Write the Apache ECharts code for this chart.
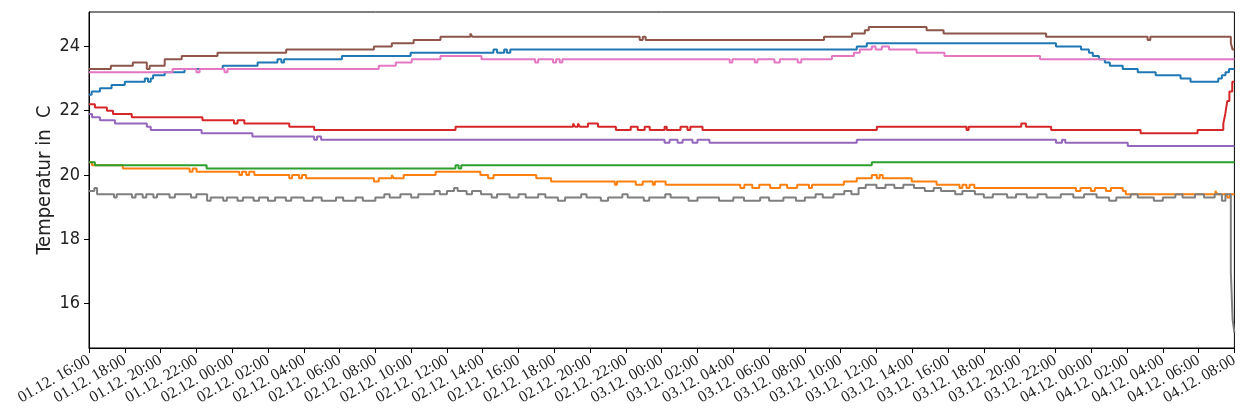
<!DOCTYPE html>
<html>
<head>
<meta charset="utf-8">
<script src="https://cdn.jsdelivr.net/npm/echarts@6/dist/echarts.min.js"></script>
<style>
  html, body { margin: 0; padding: 0; background: #fff; }
  #chart { width: 1241px; height: 416px; }
</style>
</head>
<body>
<div id="chart"></div>
<script>
// hours since 01.12. 16:00, temperature in °C (each value holds until the next point)
const startDay = 1;
const startHour = 16;
const hourTicks = 64;
const yTicks = [16, 18, 20, 22, 24];

const sensorBlue = [
    [0, 22.5], [0.15, 22.6], [0.61, 22.7], [1.26, 22.8], [2.0, 22.9], [3.12, 23.0], [3.3, 22.9], [3.45, 23.0],
    [3.58, 23.1], [4.23, 23.2], [5.34, 23.3], [7.47, 23.4], [9.42, 23.5], [10.53, 23.6], [10.75, 23.5], [10.9, 23.6],
    [14.13, 23.7], [17.97, 23.8], [22.6, 23.9], [22.8, 23.8], [23.2, 23.9], [23.35, 23.8], [23.54, 23.9],
    [42.9, 24.0], [43.46, 24.1], [54.03, 24.0], [55.43, 23.9], [55.87, 23.8], [56.09, 23.7], [56.43, 23.6],
    [56.76, 23.5], [57.04, 23.4], [57.76, 23.3], [58.6, 23.2], [59.6, 23.1], [60.99, 23.0], [61.55, 22.9],
    [63.1, 23.0], [63.3, 23.1], [63.5, 23.2], [63.7, 23.3], [64, 23.3]
];

const sensorOrange = [
    [0, 20.4], [0.17, 20.3], [1.89, 20.2], [5.62, 20.1], [5.79, 20.2], [6.01, 20.1], [8.4, 20.0], [8.55, 20.1],
    [8.79, 20.0], [8.95, 20.1], [9.24, 20.0], [11.19, 19.9], [11.35, 20.0], [11.74, 19.9], [11.9, 20.0],
    [12.13, 19.9], [15.92, 19.8], [16.19, 19.9], [16.92, 20.0], [17.03, 19.9], [17.58, 20.0], [19.37, 20.1],
    [21.87, 20.0], [22.3, 19.9], [22.6, 20.0], [24.99, 19.9], [25.82, 19.8], [29.38, 19.7], [29.5, 19.8],
    [30.55, 19.7], [30.94, 19.8], [31.5, 19.7], [31.62, 19.8], [32.22, 19.7], [36.39, 19.6], [36.62, 19.7],
    [37.06, 19.6], [37.45, 19.7], [38.06, 19.6], [38.62, 19.7], [39.01, 19.6], [39.57, 19.7], [40.23, 19.6],
    [40.4, 19.7], [42.18, 19.8], [42.9, 19.9], [43.74, 20.0], [44.02, 19.9], [44.18, 20.0], [44.35, 19.9],
    [45.97, 19.8], [47.36, 19.7], [48.64, 19.6], [48.8, 19.7], [49.03, 19.6], [49.2, 19.7], [49.47, 19.6],
    [55.15, 19.5], [55.4, 19.6], [55.98, 19.5], [56.2, 19.6], [56.82, 19.5], [57.1, 19.6], [57.76, 19.5],
    [57.93, 19.4], [62.94, 19.5], [63.05, 19.4], [63.6, 19.3], [63.75, 19.4], [64, 19.4]
];

const sensorGreen = [
    [0, 20.4], [0.33, 20.3], [6.57, 20.2], [20.48, 20.3], [20.65, 20.2], [20.8, 20.3], [43.74, 20.4], [64, 20.4]
];

const sensorRed = [
    [0, 22.2], [0.33, 22.1], [1.0, 22.0], [1.34, 21.9], [2.39, 21.8], [6.34, 21.7], [8.1, 21.6], [8.3, 21.7],
    [8.68, 21.6], [11.19, 21.5], [12.58, 21.4], [20.48, 21.5], [27.05, 21.6], [27.16, 21.5], [27.32, 21.6],
    [27.43, 21.5], [27.88, 21.6], [28.44, 21.5], [29.44, 21.4], [30.27, 21.5], [30.66, 21.4], [31.05, 21.5],
    [31.33, 21.4], [32.16, 21.5], [32.28, 21.4], [33.05, 21.5], [33.44, 21.4], [33.6, 21.5], [34.28, 21.4],
    [44.02, 21.5], [49.03, 21.4], [49.15, 21.5], [52.09, 21.6], [52.35, 21.5], [53.76, 21.4], [58.76, 21.3],
    [61.94, 21.4], [63.38, 21.6], [63.49, 21.9], [63.6, 22.3], [63.72, 22.6], [63.88, 22.9], [64, 22.9]
];

const sensorPurple = [
    [0, 21.9], [0.17, 21.8], [0.61, 21.7], [1.45, 21.6], [3.23, 21.5], [3.45, 21.4], [6.29, 21.3], [9.13, 21.2],
    [12.58, 21.1], [12.74, 21.2], [12.97, 21.1], [32.16, 21.0], [32.44, 21.1], [32.89, 21.0], [33.17, 21.1],
    [33.72, 21.0], [34.0, 21.1], [34.67, 21.0], [42.9, 21.1], [54.03, 21.0], [54.37, 21.1], [54.55, 21.0],
    [58.04, 20.9], [64, 20.9]
];

const sensorBrown = [
    [0, 23.3], [1.22, 23.4], [2.45, 23.5], [3.23, 23.3], [3.39, 23.4], [4.23, 23.6], [5.18, 23.7], [7.18, 23.8],
    [11.02, 23.9], [15.92, 24.0], [16.92, 24.1], [18.14, 24.2], [19.64, 24.3], [21.31, 24.4], [21.42, 24.3],
    [30.77, 24.2], [30.94, 24.3], [31.1, 24.2], [41.07, 24.3], [42.63, 24.4], [43.35, 24.5], [43.57, 24.6],
    [46.8, 24.5], [47.75, 24.4], [53.48, 24.3], [59.15, 24.2], [59.3, 24.3], [63.8, 24.1], [63.9, 23.9], [64, 23.9]
];

const sensorPink = [
    [0, 23.2], [4.67, 23.3], [6.0, 23.2], [6.18, 23.3], [7.57, 23.2], [7.74, 23.3], [16.19, 23.4], [17.14, 23.5],
    [18.03, 23.6], [19.64, 23.7], [21.93, 23.6], [24.93, 23.5], [25.1, 23.6], [25.93, 23.5], [26.1, 23.6],
    [26.3, 23.5], [26.45, 23.6], [35.8, 23.5], [35.95, 23.6], [37.2, 23.5], [37.35, 23.6], [38.3, 23.5],
    [38.6, 23.6], [39.6, 23.5], [39.8, 23.6], [41.51, 23.7], [42.74, 23.8], [43.07, 23.9], [43.74, 24.0],
    [43.95, 23.9], [44.3, 24.0], [44.7, 23.9], [46.24, 23.8], [47.8, 23.7], [53.14, 23.6], [64, 23.6]
];

const sensorGray = [
    [0, 19.5], [0.3, 19.6], [0.45, 19.4], [1.4, 19.3], [1.55, 19.4], [2.4, 19.3], [2.6, 19.4], [3.0, 19.3],
    [3.2, 19.4], [3.6, 19.3], [3.8, 19.4], [4.5, 19.3], [4.8, 19.4], [5.7, 19.3], [6.0, 19.4], [6.6, 19.2],
    [6.8, 19.3], [7.5, 19.2], [7.7, 19.3], [8.3, 19.2], [8.6, 19.3], [9.2, 19.2], [9.5, 19.3], [10.0, 19.2],
    [10.4, 19.3], [11.0, 19.2], [11.3, 19.3], [12.0, 19.2], [12.5, 19.3], [13.0, 19.2], [13.8, 19.3],
    [14.2, 19.2], [14.9, 19.3], [15.3, 19.2], [16.0, 19.3], [16.5, 19.4], [16.8, 19.3], [17.4, 19.4],
    [18.0, 19.3], [18.4, 19.4], [19.3, 19.5], [19.6, 19.4], [20.0, 19.5], [20.4, 19.6], [20.6, 19.5],
    [21.1, 19.4], [21.4, 19.5], [21.9, 19.4], [22.5, 19.3], [22.8, 19.4], [23.5, 19.3], [24.0, 19.4],
    [24.4, 19.3], [25.1, 19.4], [25.5, 19.3], [26.2, 19.2], [26.6, 19.3], [27.5, 19.4], [27.8, 19.3],
    [28.6, 19.2], [29.0, 19.3], [29.8, 19.4], [30.1, 19.3], [31.0, 19.2], [31.3, 19.3], [32.2, 19.4],
    [32.5, 19.3], [33.5, 19.2], [34.0, 19.3], [35.2, 19.2], [36.0, 19.3], [36.6, 19.2], [37.5, 19.3],
    [38.0, 19.2], [38.8, 19.3], [39.5, 19.2], [40.0, 19.3], [40.6, 19.4], [41.0, 19.3], [41.6, 19.4],
    [42.2, 19.5], [42.6, 19.4], [43.0, 19.6], [43.4, 19.7], [44.0, 19.6], [44.5, 19.7], [45.0, 19.6],
    [45.5, 19.7], [46.1, 19.6], [46.7, 19.5], [47.2, 19.6], [47.6, 19.5], [48.4, 19.4], [48.8, 19.5],
    [49.5, 19.4], [50.0, 19.3], [50.5, 19.4], [51.3, 19.3], [51.8, 19.4], [52.4, 19.3], [53.0, 19.4],
    [53.5, 19.3], [54.3, 19.4], [55.0, 19.3], [55.6, 19.4], [56.3, 19.3], [57.0, 19.2], [57.4, 19.3],
    [58.2, 19.4], [58.6, 19.3], [59.5, 19.2], [60.0, 19.3], [60.7, 19.4], [61.1, 19.3], [61.8, 19.4],
    [62.3, 19.3], [62.9, 19.4], [63.3, 19.2], [63.5, 19.4], [63.8, 17.0], [63.9, 15.5], [64, 15.1]
];

const sensors = [
    { data: sensorBlue, color: '#1f77b4' },
    { data: sensorOrange, color: '#ff7f0e' },
    { data: sensorGreen, color: '#2ca02c' },
    { data: sensorRed, color: '#d62728' },
    { data: sensorPurple, color: '#9467bd' },
    { data: sensorBrown, color: '#8c564b' },
    { data: sensorPink, color: '#e377c2' },
    { data: sensorGray, color: '#7f7f7f' }
];

function pad(n) {
    return (n < 10 ? '0' : '') + n;
}

function hourLabel(h) {
    const total = startHour + h;
    const day = startDay + Math.floor(total / 24);
    return pad(day) + '.12. ' + pad(total % 24) + ':00';
}

const chart = echarts.init(document.getElementById('chart'), null, { renderer: 'canvas' });

const sansFont = "'DejaVu Sans Condensed', 'Liberation Sans Narrow', 'Noto Sans', sans-serif";

const option = {
    animation: false,
    backgroundColor: '#fff',
    grid: {
        left: 89,
        right: 2,
        top: 12,
        bottom: 68,
        show: true,
        borderColor: '#000',
        borderWidth: 1
    },
    xAxis: {
        type: 'value',
        min: 0,
        max: hourTicks,
        interval: 2,
        axisLine: { show: true, lineStyle: { color: '#000', width: 1 } },
        axisTick: { show: true, length: 5, lineStyle: { color: '#000' } },
        splitLine: { show: false },
        axisLabel: {
            rotate: 30,
            margin: 11,
            color: '#222',
            fontFamily: "'Liberation Serif', 'DejaVu Serif', serif",
            fontSize: 16,
            formatter: (v) => hourLabel(v)
        }
    },
    yAxis: {
        type: 'value',
        min: 14.62,
        max: 25.07,
        name: 'Temperatur in  C',
        nameLocation: 'middle',
        nameGap: 34,
        nameMoveOverlap: false,
        nameTextStyle: { fontFamily: sansFont, fontSize: 20, color: '#222' },
        axisLine: { show: true, lineStyle: { color: '#000', width: 1 } },
        axisTick: { show: true, length: 5, customValues: yTicks, lineStyle: { color: '#000' } },
        splitLine: { show: false },
        axisLabel: {
            customValues: yTicks,
            margin: 9,
            color: '#222',
            fontFamily: sansFont,
            fontSize: 18
        }
    },
    series: sensors.map(s => ({
        type: 'line',
        step: 'end',
        symbol: 'none',
        data: s.data,
        lineStyle: { color: s.color, width: 2 },
        itemStyle: { color: s.color }
    }))
};

chart.setOption(option);
</script>
</body>
</html>
